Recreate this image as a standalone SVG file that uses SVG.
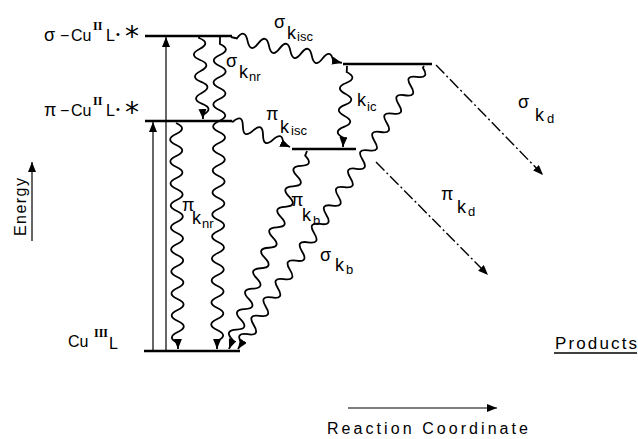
<svg xmlns="http://www.w3.org/2000/svg" width="638" height="439" viewBox="0 0 638 439">
<style>
text{font-family:"Liberation Sans",Arial,sans-serif;fill:#000}
.lv{stroke:#000;stroke-width:2.4;fill:none}
.wv{stroke:#000;stroke-width:1.8;fill:none;marker-end:url(#ah)}
.st{stroke:#000;stroke-width:1.2;fill:none;marker-end:url(#ah)}
.dd{stroke:#000;stroke-width:1.4;fill:none;stroke-dasharray:12 3 2 3;marker-end:url(#ah)}
.lab{font-size:16px}
.gr{font-size:18px}
.rn{font-family:"Liberation Serif",serif;font-weight:bold;font-size:12px}
.star{font-family:"DejaVu Sans",sans-serif;font-size:28px}
.pre{font-size:18px}
.k{font-size:18px}
.sub{font-size:13px}
</style>
<defs>
<marker id="ah" markerUnits="userSpaceOnUse" markerWidth="11" markerHeight="9" refX="10" refY="4" orient="auto">
<path d="M0,0 L10,4 L0,8 z" fill="#000"/>
</marker>
</defs>

<g id="level-sigma-star">
<line class="lv" x1="145" y1="36" x2="232" y2="36"/>
<text class="lab" y="41"><tspan class="gr" x="44">σ</tspan><tspan x="60">−</tspan><tspan x="71">Cu</tspan><tspan class="rn" x="93" y="30">II</tspan><tspan x="106" y="41">L</tspan><tspan x="116" y="38" font-size="11">•</tspan><tspan class="star" x="125" y="46">*</tspan></text>
</g>

<g id="level-pi-star">
<line class="lv" x1="145" y1="121" x2="232" y2="121"/>
<text class="lab" y="116"><tspan class="gr" x="44">π</tspan><tspan x="60">−</tspan><tspan x="71">Cu</tspan><tspan class="rn" x="93" y="105">II</tspan><tspan x="106" y="116">L</tspan><tspan x="116" y="113" font-size="11">•</tspan><tspan class="star" x="125" y="122">*</tspan></text>
</g>

<g id="level-sigma-isc">
<line class="lv" x1="343" y1="64" x2="432" y2="64"/>
</g>

<g id="level-pi-isc">
<line class="lv" x1="292" y1="149" x2="356" y2="149"/>
</g>

<g id="level-ground">
<line class="lv" x1="144" y1="351" x2="240" y2="351"/>
<text class="lab" y="347"><tspan x="68">Cu</tspan><tspan class="rn" x="94" y="337">III</tspan><tspan x="109" y="349">L</tspan></text>
</g>

<g id="products">
<text x="555" y="349" font-size="17" textLength="82" lengthAdjust="spacing">Products</text>
<line x1="554" y1="353" x2="637" y2="353" stroke="#000" stroke-width="1.5"/>
</g>

<g id="energy-axis">
<text transform="translate(26,236) rotate(-90)" font-size="16" textLength="58" lengthAdjust="spacing">Energy</text>
<line class="st" x1="32" y1="241" x2="32" y2="162" stroke-width="1.5"/>
</g>

<g id="reaction-axis">
<line class="st" x1="348" y1="408" x2="497" y2="408" stroke-width="1.6"/>
<text x="327" y="434" font-size="16" textLength="201" lengthAdjust="spacing">Reaction  Coordinate</text>
</g>

<g id="connectors">
<line class="st" x1="166" y1="351" x2="166" y2="37"/>
<line class="st" x1="153" y1="351" x2="153" y2="122"/>
<path class="wv" transform="translate(199,37) rotate(87.2)" d="M0,0 h1 q5.5,-12 11,0 t11,0 t11,0 t11,0 t11,0 t11,0 t11,0 h4.1"/>
<path class="wv" transform="translate(220,37) rotate(90.55)" d="M0,0 h7 q5.5,-12 11,0 t11,0 t11,0 t11,0 t11,0 t11,0 t11,0 t11,0 t11,0 t11,0 t11,0 t11,0 t11,0 t11,0 t11,0 t11,0 t11,0 t11,0 t11,0 t11,0 t11,0 t11,0 t11,0 t11,0 t11,0 t11,0 t11,0 h8"/>
<path class="wv" transform="translate(176,123) rotate(89.5)" d="M0,0 q5.5,-12 11,0 t11,0 t11,0 t11,0 t11,0 t11,0 t11,0 t11,0 t11,0 t11,0 t11,0 t11,0 t11,0 t11,0 t11,0 t11,0 t11,0 t11,0 t11,0 t11,0 h6"/>
<path class="wv" transform="translate(231,37) rotate(13.18)" d="M0,0 h6 q5.5,-12 11,0 t11,0 t11,0 t11,0 t11,0 t11,0 t11,0 t11,0 t11,0 h9"/>
<path class="wv" transform="translate(231,121) rotate(23.78)" d="M0,0 h2 q5.5,-12 11,0 t11,0 t11,0 t11,0 t11,0 h7.5"/>
<path class="wv" transform="translate(347,66) rotate(92.83)" d="M0,0 h6 q5.5,-12 11,0 t11,0 t11,0 t11,0 t11,0 t11,0 h9.1"/>
<path class="wv" transform="translate(307,151) rotate(111.5)" d="M0,0 h5 q5.5,-12 11,0 t11,0 t11,0 t11,0 t11,0 t11,0 t11,0 t11,0 t11,0 t11,0 t11,0 t11,0 t11,0 t11,0 t11,0 t11,0 t11,0 t11,0 h9.8"/>
<path class="wv" transform="translate(424,66) rotate(123.32)" d="M0,0 h2 q5.5,-12 11,0 t11,0 t11,0 t11,0 t11,0 t11,0 t11,0 t11,0 t11,0 t11,0 t11,0 t11,0 t11,0 t11,0 t11,0 t11,0 t11,0 t11,0 t11,0 t11,0 t11,0 t11,0 t11,0 t11,0 t11,0 t11,0 t11,0 t11,0 t11,0 t11,0 h6.65"/>
<line class="dd" x1="436" y1="65" x2="543" y2="175"/>
<line class="dd" x1="376" y1="162" x2="488" y2="275"/>
</g>

<g id="labels">
<text><tspan class="pre" x="274" y="28">σ</tspan><tspan class="k" x="287" y="39">k</tspan><tspan class="sub" x="297" y="41">isc</tspan></text>
<text><tspan class="pre" x="226" y="67">σ</tspan><tspan class="k" x="239" y="78">k</tspan><tspan class="sub" x="249" y="81">nr</tspan></text>
<text><tspan class="pre" x="266" y="120">π</tspan><tspan class="k" x="280" y="133">k</tspan><tspan class="sub" x="291" y="135">isc</tspan></text>
<text><tspan class="k" x="357" y="106">k</tspan><tspan class="sub" x="367" y="111">ic</tspan></text>
<text><tspan class="pre" x="182" y="211">π</tspan><tspan class="k" x="192" y="224">k</tspan><tspan class="sub" x="202" y="228">nr</tspan></text>
<text><tspan class="pre" x="291" y="206">π</tspan><tspan class="k" x="302" y="221">k</tspan><tspan class="sub" x="313" y="225">b</tspan></text>
<text><tspan class="pre" x="320" y="261">σ</tspan><tspan class="k" x="335" y="271">k</tspan><tspan class="sub" x="346" y="274">b</tspan></text>
<text><tspan class="pre" x="441" y="200">π</tspan><tspan class="k" x="457" y="213">k</tspan><tspan class="sub" x="468" y="216">d</tspan></text>
<text><tspan class="pre" x="518" y="108">σ</tspan><tspan class="k" x="535" y="121">k</tspan><tspan class="sub" x="547" y="123">d</tspan></text>
</g>
</svg>
